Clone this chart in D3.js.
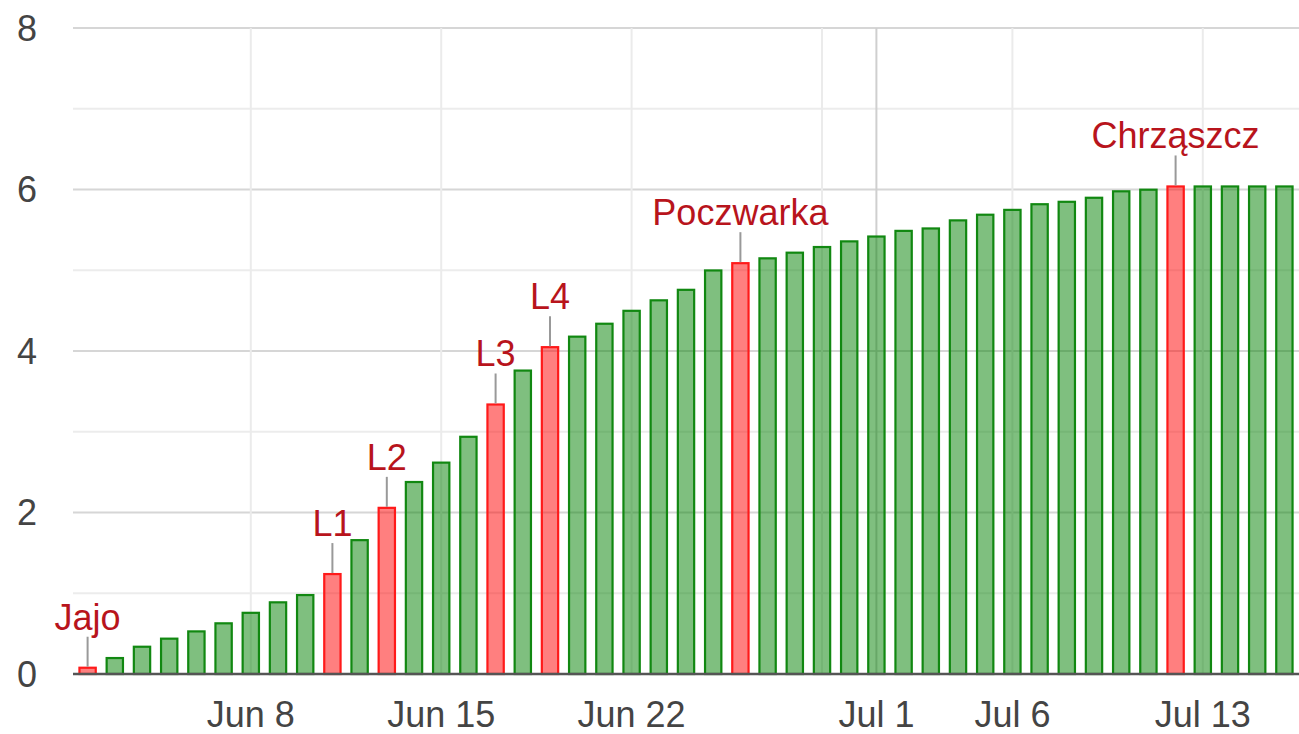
<!doctype html>
<html lang="pl">
<head>
  <meta charset="UTF-8">
  <title>Rozwój</title>
  <script src="https://cdn.jsdelivr.net/npm/d3@7"></script>
  <style>
    body { margin: 0; background: #fff; }
    text { font-family: "Liberation Sans", Arial, sans-serif; }
  </style>
</head>
<body>
  <script>

    // one bar per day
    var days = [
      "2020-06-02", "2020-06-03", "2020-06-04", "2020-06-05", "2020-06-06",
      "2020-06-07", "2020-06-08", "2020-06-09", "2020-06-10", "2020-06-11",
      "2020-06-12", "2020-06-13", "2020-06-14", "2020-06-15", "2020-06-16",
      "2020-06-17", "2020-06-18", "2020-06-19", "2020-06-20", "2020-06-21",
      "2020-06-22", "2020-06-23", "2020-06-24", "2020-06-25", "2020-06-26",
      "2020-06-27", "2020-06-28", "2020-06-29", "2020-06-30", "2020-07-01",
      "2020-07-02", "2020-07-03", "2020-07-04", "2020-07-05", "2020-07-06",
      "2020-07-07", "2020-07-08", "2020-07-09", "2020-07-10", "2020-07-11",
      "2020-07-12", "2020-07-13", "2020-07-14", "2020-07-15", "2020-07-16"
    ];

    var values = [
      0.09, 0.21, 0.35, 0.45, 0.54, 0.64, 0.77, 0.90, 0.99, 1.25,
      1.67, 2.07, 2.39, 2.63, 2.95, 3.35, 3.77, 4.06, 4.19, 4.35,
      4.51, 4.64, 4.77, 5.01, 5.10, 5.16, 5.23, 5.30, 5.37, 5.43,
      5.50, 5.53, 5.63, 5.70, 5.76, 5.83, 5.86, 5.91, 5.99, 6.01,
      6.05, 6.05, 6.05, 6.05, 6.05
    ];

    // stages (red bars with a note above)
    var stageDays = ["2020-06-02", "2020-06-11", "2020-06-13", "2020-06-17", "2020-06-19", "2020-06-26", "2020-07-12"];
    var stageNames = ["Jajo", "L1", "L2", "L3", "L4", "Poczwarka", "Chrząszcz"];

    var xTickDays = ["2020-06-08", "2020-06-15", "2020-06-22", "2020-07-01", "2020-07-06", "2020-07-13"];
    var xTickLabels = ["Jun 8", "Jun 15", "Jun 22", "Jul 1", "Jul 6", "Jul 13"];
    var weekLines = ["2020-06-08", "2020-06-15", "2020-06-22", "2020-06-29", "2020-07-06", "2020-07-13"];
    var monthLines = ["2020-07-01"];

    var yTicks = [0, 2, 4, 6, 8];
    var yMinor = [1, 3, 5, 7];

    var parse = d3.utcParse("%Y-%m-%d");

    var data = days.map(function(d, i) {
      var k = stageDays.indexOf(d);
      return { date: parse(d), value: values[i], stage: k >= 0 ? stageNames[k] : null };
    });

    var W = 1299, H = 734
      , plotLeft = 73, plotRight = 1299
      , plotTop = 28, plotBottom = 674
      ;

    var half = 12 * 3600 * 1000;
    var x = d3.scaleUtc()
      .domain([new Date(parse(days[0]).getTime() - half), new Date(parse(days[days.length - 1]).getTime() + half)])
      .range([74, 1298]);

    var y = d3.scaleLinear().domain([0, 8]).range([plotBottom, plotTop]);

    var dayW = x(parse(days[1])) - x(parse(days[0]));
    var barW = dayW * 0.6;

    var svg = d3.select("body").append("svg")
      .attr("width", W)
      .attr("height", H);

    // horizontal grid
    svg.selectAll("line.ymin")
      .data(yMinor)
      .enter().append("line")
      .attr("x1", plotLeft).attr("x2", plotRight)
      .attr("y1", function(d) { return y(d); })
      .attr("y2", function(d) { return y(d); })
      .attr("stroke", "#ececec")
      .attr("stroke-width", 2);

    svg.selectAll("line.ymaj")
      .data(yTicks.filter(function(d) { return d > 0; }))
      .enter().append("line")
      .attr("x1", plotLeft).attr("x2", plotRight)
      .attr("y1", function(d) { return y(d); })
      .attr("y2", function(d) { return y(d); })
      .attr("stroke", "#d6d6d6")
      .attr("stroke-width", 2);

    // vertical grid
    svg.selectAll("line.week")
      .data(weekLines)
      .enter().append("line")
      .attr("x1", function(d) { return x(parse(d)); })
      .attr("x2", function(d) { return x(parse(d)); })
      .attr("y1", plotTop).attr("y2", plotBottom)
      .attr("stroke", "#ebebeb")
      .attr("stroke-width", 2);

    svg.selectAll("line.month")
      .data(monthLines)
      .enter().append("line")
      .attr("x1", function(d) { return x(parse(d)); })
      .attr("x2", function(d) { return x(parse(d)); })
      .attr("y1", plotTop).attr("y2", plotBottom)
      .attr("stroke", "#cfcfcf")
      .attr("stroke-width", 2);

    // bars
    svg.selectAll("rect.bar")
      .data(data)
      .enter().append("rect")
      .attr("x", function(d) { return x(d.date) - barW / 2; })
      .attr("y", function(d) { return y(d.value) + 1; })
      .attr("width", barW)
      .attr("height", function(d) { return plotBottom - y(d.value) - 1; })
      .attr("fill", function(d) { return d.stage ? "#ff0000" : "#008000"; })
      .attr("fill-opacity", 0.5)
      .attr("stroke", function(d) { return d.stage ? "#ff1a1a" : "#118811"; })
      .attr("stroke-width", 2.2);

    // baseline
    svg.append("line")
      .attr("x1", plotLeft).attr("x2", plotRight)
      .attr("y1", y(0)).attr("y2", y(0))
      .attr("stroke", "#555")
      .attr("stroke-width", 2.5);

    // annotations
    var notes = data.filter(function(d) { return d.stage; });

    svg.selectAll("line.stem")
      .data(notes)
      .enter().append("line")
      .attr("x1", function(d) { return x(d.date); })
      .attr("x2", function(d) { return x(d.date); })
      .attr("y1", function(d) { return y(d.value); })
      .attr("y2", function(d) { return y(d.value) - 30; })
      .attr("stroke", "#999")
      .attr("stroke-width", 2);

    svg.selectAll("text.note")
      .data(notes)
      .enter().append("text")
      .attr("x", function(d) { return x(d.date); })
      .attr("y", function(d) { return y(d.value) - 37; })
      .attr("text-anchor", "middle")
      .attr("font-size", 36)
      .attr("fill", "#b8141c")
      .text(function(d) { return d.stage; });

    // y labels
    svg.selectAll("text.ylab")
      .data(yTicks)
      .enter().append("text")
      .attr("x", 37)
      .attr("y", function(d) { return y(d); })
      .attr("dy", "0.36em")
      .attr("text-anchor", "end")
      .attr("font-size", 36)
      .attr("fill", "#444")
      .text(function(d) { return d; });

    // x labels
    svg.selectAll("text.xlab")
      .data(xTickDays)
      .enter().append("text")
      .attr("x", function(d) { return x(parse(d)); })
      .attr("y", 727)
      .attr("text-anchor", "middle")
      .attr("font-size", 36)
      .attr("fill", "#444")
      .text(function(d, i) { return xTickLabels[i]; });

  </script>
</body>
</html>
